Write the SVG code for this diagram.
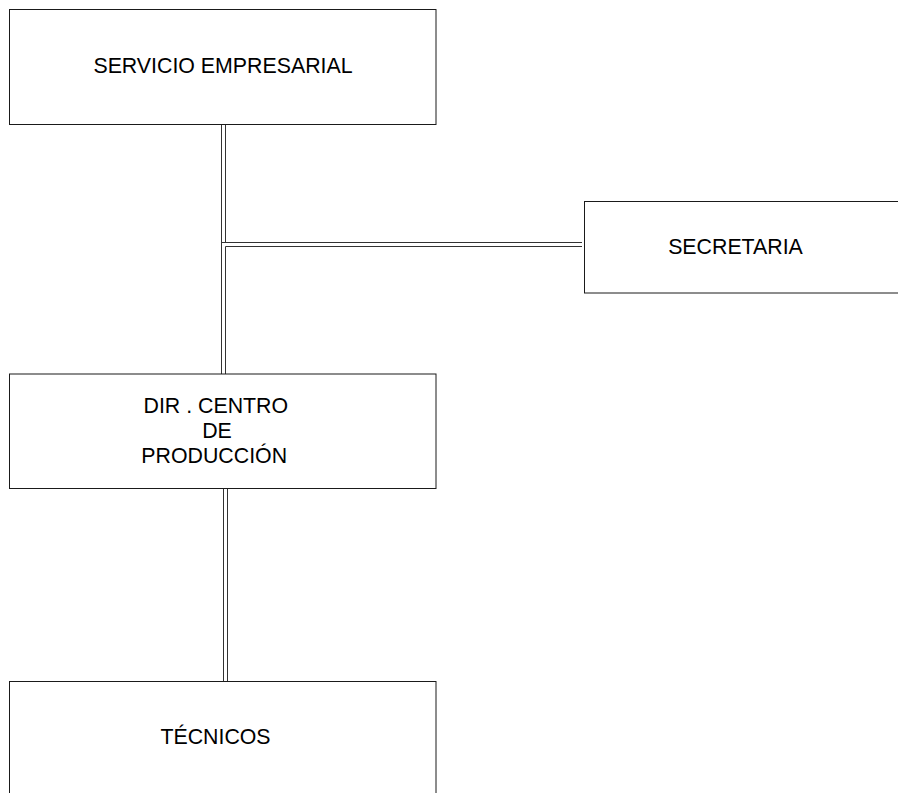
<svg xmlns="http://www.w3.org/2000/svg" width="898" height="793" viewBox="0 0 898 793">
<style>
.box{fill:#fff;stroke:#1a1a1a;stroke-width:1}
.ln{stroke:#333;stroke-width:1;fill:none}
.t{font-family:"Liberation Sans",Arial,sans-serif;font-size:21.33px;fill:#000;text-anchor:middle}
</style>
<rect width="898" height="793" fill="#fff"/>
<g id="connectors">
<line class="ln" x1="221.5" y1="124.5" x2="221.5" y2="374"/>
<line class="ln" x1="225.5" y1="124.5" x2="225.5" y2="242.5"/>
<line class="ln" x1="225.5" y1="246.5" x2="225.5" y2="374"/>
<line class="ln" x1="222" y1="242.5" x2="582" y2="242.5"/>
<line class="ln" x1="225.5" y1="246.5" x2="582" y2="246.5"/>
<line class="ln" x1="223.5" y1="488.5" x2="223.5" y2="681.5"/>
<line class="ln" x1="227.5" y1="488.5" x2="227.5" y2="681.5"/>
</g>
<g id="servicio">
<rect class="box" x="9.5" y="9.5" width="426.5" height="115"/>
<text class="t" x="223" y="73.3">SERVICIO EMPRESARIAL</text>
</g>
<g id="secretaria">
<rect class="box" x="584.5" y="201.5" width="320" height="91.5"/>
<text class="t" x="735.5" y="254">SECRETARIA</text>
</g>
<g id="direccion">
<rect class="box" x="9.5" y="374" width="426.5" height="114.5"/>
<text class="t" x="215.8" y="412.7">DIR . CENTRO</text>
<text class="t" x="217" y="438.3">DE</text>
<text class="t" x="214.2" y="463.3">PRODUCCIÓN</text>
</g>
<g id="tecnicos">
<rect class="box" x="9.5" y="681.5" width="426.5" height="130"/>
<text class="t" x="215.5" y="744.3">TÉCNICOS</text>
</g>
</svg>
